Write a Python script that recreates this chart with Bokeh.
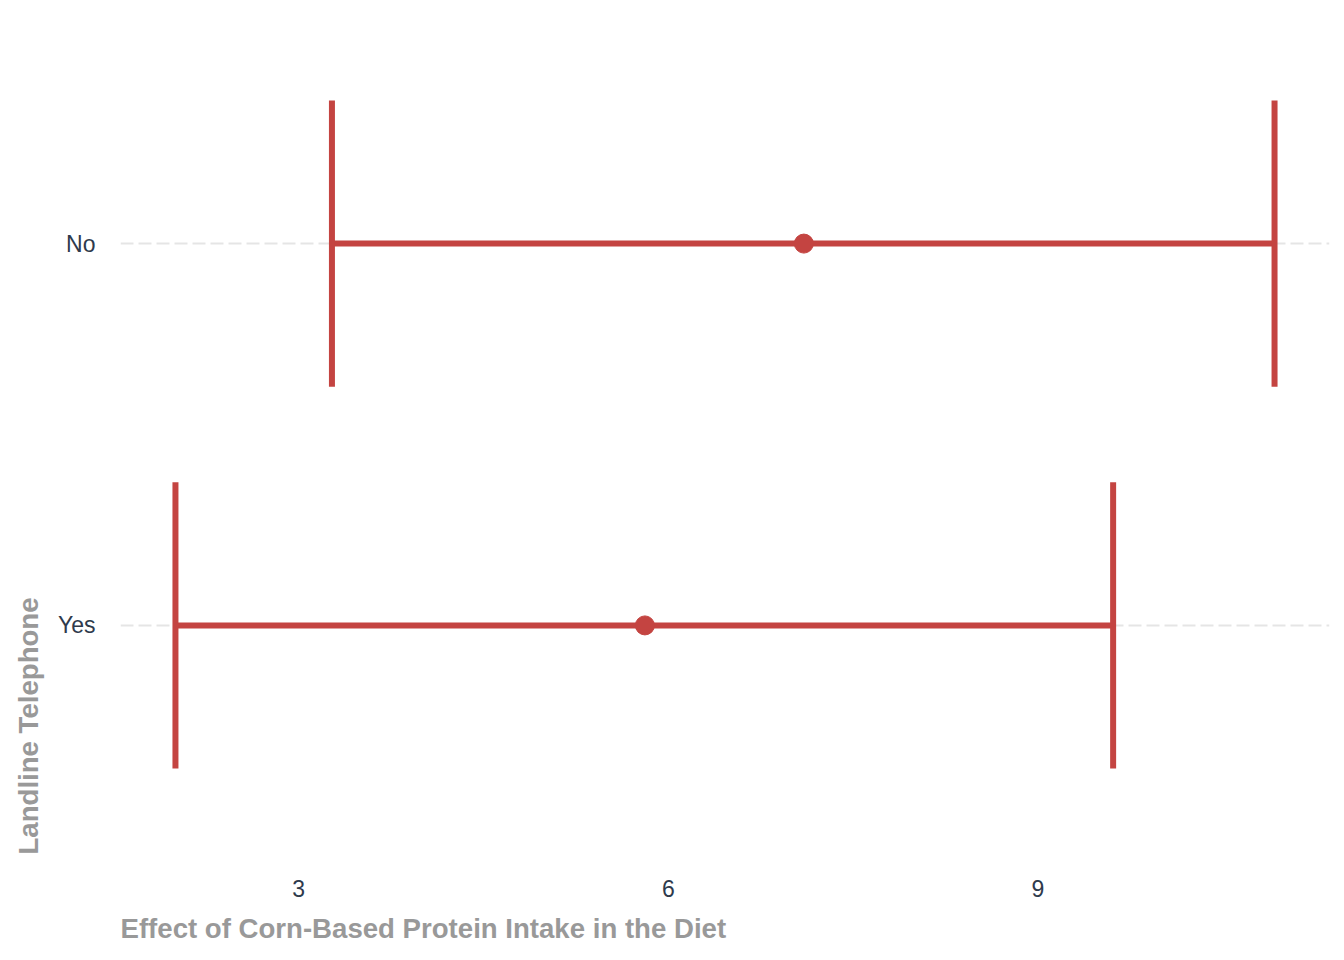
from bokeh.plotting import figure
from bokeh.models import FactorRange, Range1d, FixedTicker, Title, ColumnDataSource
from bokeh.embed import file_html
from bokeh.resources import INLINE

# Estimated effect with lower/upper interval bounds per group
groups = ["Yes", "No"]
estimate = [5.81, 7.10]
lower = [2.00, 3.27]
upper = [9.61, 10.92]
x_ticks = [3, 6, 9]

RED = "#C44441"
FONT = "Liberation Sans"
cap_half = 0.375

src = ColumnDataSource(dict(
    group=groups,
    est=estimate,
    lo=lower,
    hi=upper,
    cap_bot=[(g, -cap_half) for g in groups],
    cap_top=[(g, cap_half) for g in groups],
))

span = max(upper) - min(lower)
pad = span * 0.05

p = figure(
    width=1344, height=960,
    x_range=Range1d(min(lower) - pad, max(upper) + pad),
    y_range=FactorRange(factors=groups, range_padding=0.1, range_padding_units="absolute"),
    output_backend="svg", toolbar_location=None,
    min_border_left=120, min_border_right=15, min_border_top=14, min_border_bottom=106,
)
p.outline_line_color = None
p.background_fill_color = "white"
p.border_fill_color = "white"

# grid: dashed horizontal guides only
p.xgrid.grid_line_color = None
p.ygrid.grid_line_color = "#E5E5E5"
p.ygrid.grid_line_width = 2
p.ygrid.grid_line_dash = "13 5"

# interval line, end caps and point estimate
p.segment(x0="lo", y0="group", x1="hi", y1="group", source=src,
          line_color=RED, line_width=6)
p.segment(x0="lo", y0="cap_bot", x1="lo", y1="cap_top", source=src,
          line_color=RED, line_width=6)
p.segment(x0="hi", y0="cap_bot", x1="hi", y1="cap_top", source=src,
          line_color=RED, line_width=6)
p.scatter(x="est", y="group", source=src, size=19,
          fill_color=RED, line_color=RED)

for ax in (p.xaxis[0], p.yaxis[0]):
    ax.axis_line_color = None
    ax.major_tick_line_color = None
    ax.minor_tick_line_color = None
    ax.major_tick_out = 0
    ax.major_tick_in = 0
    ax.major_label_text_font = FONT
    ax.major_label_text_font_size = "23px"
    ax.major_label_text_color = "#2E3A4C"

p.xaxis[0].ticker = FixedTicker(ticks=x_ticks)
p.xaxis[0].major_label_standoff = 25
p.yaxis[0].major_label_standoff = 25

p.add_layout(Title(text="Effect of Corn-Based Protein Intake in the Diet", align="left",
                   text_font=FONT, text_font_size="27.6px", text_font_style="bold",
                   text_color="#999999", standoff=22), "below")
p.add_layout(Title(text="Landline Telephone", align="left",
                   text_font=FONT, text_font_size="27.6px", text_font_style="bold",
                   text_color="#999999", standoff=21), "left")

open("out.html", "w").write(file_html(p, INLINE))
